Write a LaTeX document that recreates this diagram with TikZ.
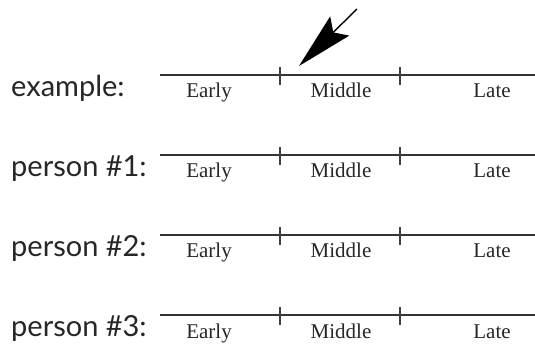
\documentclass[tikz,border=0pt]{standalone}
\usepackage{fontspec}
\setmainfont{Liberation Serif}
\newfontfamily\labelfont{Lato}
\usetikzlibrary{arrows.meta}
\tikzset{
  rowlabel/.style={anchor=base west, inner sep=0pt, font=\labelfont\fontsize{29}{32}\selectfont, text=black!85},
  phase/.style={anchor=base, inner sep=0pt, font=\fontsize{21}{24}\selectfont, text=black!85},
  axis/.style={line width=1.3pt, draw=black!80},
  tick/.style={line width=1.3pt, draw=black!75},
  pointer/.style={line width=1.4pt, -{Stealth[length=57pt, width=27pt, inset=9pt]}}
}
\begin{document}
\begin{tikzpicture}[x=1pt, y=-1pt]
  \useasboundingbox (0,0) rectangle (535,344);
  \foreach \name/\lab/\yy in {ex/example:/75, pa/person \#1:/155, pb/person \#2:/235, pc/person \#3:/315} {
    \node[rowlabel] (\name-label) at (11,\yy+22) {\lab};
    \coordinate (\name-start) at (160,\yy);
    \coordinate (\name-end) at (535,\yy);
    \draw[axis] (\name-start) -- (\name-end);
    \coordinate (\name-t1a) at (280,\yy-8);
    \coordinate (\name-t1b) at (280,\yy+10);
    \coordinate (\name-t2a) at (400,\yy-8);
    \coordinate (\name-t2b) at (400,\yy+10);
    \draw[tick] (\name-t1a) -- (\name-t1b);
    \draw[tick] (\name-t2a) -- (\name-t2b);
    \node[phase] (\name-early) at (209,\yy+23) {Early};
    \node[phase] (\name-middle) at (341,\yy+23) {Middle};
    \node[phase] (\name-late) at (492,\yy+23) {Late};
  }
  \coordinate (arrow-tail) at (357,9);
  \coordinate (arrow-tip) at (299,66);
  \draw[pointer] (arrow-tail) -- (arrow-tip);
\end{tikzpicture}
\end{document}
